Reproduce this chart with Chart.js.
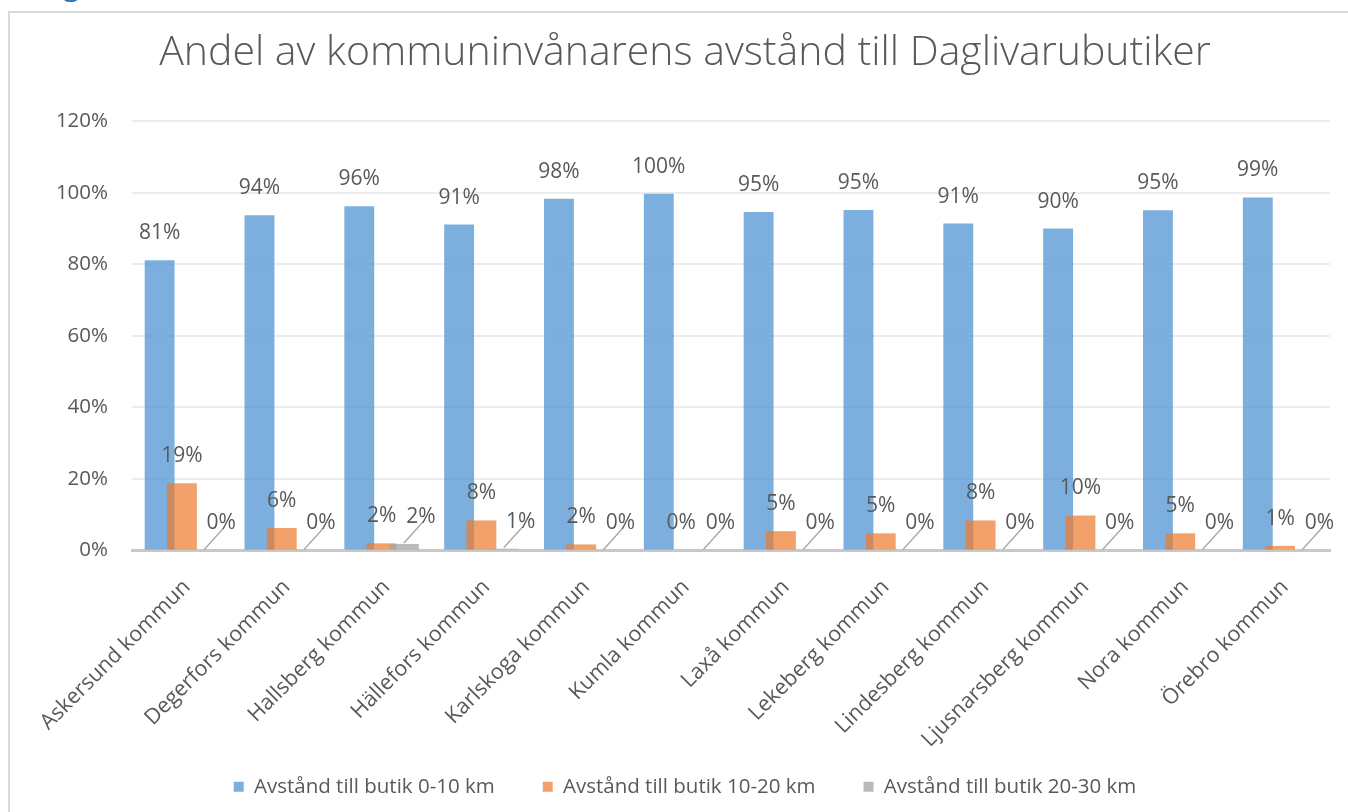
<!DOCTYPE html>
<html>
<head>
<meta charset="utf-8">
<script src="https://cdn.jsdelivr.net/npm/chart.js@4.4.1/dist/chart.umd.min.js"></script>
<style>
  html, body { margin: 0; padding: 0; background: #fff; overflow: hidden; }
  #frame { position: absolute; left: 8px; top: 11px; width: 1400px; height: 900px; border: 2px solid #d9d9d9; box-sizing: border-box; }
  #head { position: absolute; left: 63px; top: -31px; font: 30px/30px "Open Sans", sans-serif; color: #2e75b6; }
  #wrap { position: absolute; left: 0; top: 0; width: 1348px; height: 812px; }
</style>
</head>
<body>
<div id="head">g</div>
<div id="frame"></div>
<div id="wrap"><canvas id="myChart"></canvas></div>
<script>
const kommuner = ['Askersund kommun', 'Degerfors kommun', 'Hallsberg kommun', 'Hällefors kommun',
  'Karlskoga kommun', 'Kumla kommun', 'Laxå kommun', 'Lekeberg kommun', 'Lindesberg kommun',
  'Ljusnarsberg kommun', 'Nora kommun', 'Örebro kommun'];
const andel0_10 = [81.1, 93.7, 96.2, 91.1, 98.3, 99.7, 94.6, 95.2, 91.4, 90.0, 95.1, 98.7];
const andel10_20 = [18.8, 6.3, 2.0, 8.4, 1.7, 0, 5.4, 4.8, 8.4, 9.8, 4.8, 1.3];
const andel20_30 = [0, 0, 1.8, 0.5, 0, 0, 0, 0, 0, 0, 0, 0];
const serieNamn = ['Avstånd till butik 0-10 km', 'Avstånd till butik 10-20 km', 'Avstånd till butik 20-30 km'];
const yTicks = [0, 20, 40, 60, 80, 100, 120];

const textColor = '#595959';
const fontFam = '"Open Sans", sans-serif';

// ritar serierna i ordning (orange över blå, grå över orange) + etiketter
const labelPlugin = {
  id: 'barLabels',
  beforeDatasetsDraw(chart) {
    const ctx = chart.ctx;
    for (let di = 0; di < chart.data.datasets.length; di++) {
      chart.getDatasetMeta(di).controller.draw();
    }
    ctx.save();
    ctx.font = '21px ' + fontFam;
    ctx.fillStyle = textColor;
    ctx.textAlign = 'center';
    ctx.textBaseline = 'middle';
    chart.data.datasets.forEach((ds, di) => {
      const meta = chart.getDatasetMeta(di);
      meta.data.forEach((bar, i) => {
        const txt = Math.round(ds.data[i]) + '%';
        if (di === 2) {
          ctx.strokeStyle = '#a6a6a6';
          ctx.lineWidth = 1.3;
          ctx.beginPath();
          ctx.moveTo(bar.x, bar.y - 1);
          ctx.lineTo(bar.x + 19, bar.y - 22);
          ctx.stroke();
          ctx.fillText(txt, bar.x + 17, bar.y - 27);
        } else {
          ctx.fillText(txt, bar.x, bar.y - 27);
        }
      });
    });
    ctx.restore();
    return false;
  }
};

const ctx = document.getElementById('myChart').getContext('2d');
const chart = new Chart(ctx, {
  type: 'bar',
  data: {
    labels: kommuner,
    datasets: [{
      label: serieNamn[0],
      data: andel0_10,
      backgroundColor: 'rgba(91, 155, 213, 0.8)'
    }, {
      label: serieNamn[1],
      data: andel10_20,
      backgroundColor: 'rgba(237, 125, 49, 0.72)'
    }, {
      label: serieNamn[2],
      data: andel20_30,
      backgroundColor: 'rgba(165, 165, 165, 0.78)'
    }]
  },
  options: {
    responsive: true,
    maintainAspectRatio: false,
    animation: false,
    datasets: {
      bar: { categoryPercentage: 0.67, barPercentage: 1.34 }
    },
    layout: { padding: { left: 40, right: 18, top: 29, bottom: 5 } },
    plugins: {
      title: {
        display: true,
        text: 'Andel av kommuninvånarens avstånd till Daglivarubutiker',
        color: textColor,
        font: { family: fontFam, size: 41, weight: '300', lineHeight: 1.2 },
        padding: { top: 0, bottom: 43 }
      },
      legend: {
        position: 'bottom',
        labels: {
          color: textColor,
          font: { family: fontFam, size: 20.5 },
          boxWidth: 10,
          boxHeight: 10,
          padding: 48
        }
      },
      tooltip: { enabled: false }
    },
    scales: {
      x: {
        grid: { display: false },
        border: { display: true, color: '#c8c8c8', width: 3 },
        ticks: {
          color: textColor,
          font: { family: fontFam, size: 21.5 },
          minRotation: 45,
          maxRotation: 45,
          padding: 16,
          labelOffset: 5,
          autoSkip: false
        },
        afterFit(scale) {
          scale.height = 178;
          scale._computeLabelArea = () => undefined; // låt etiketterna gå ner i legenden
        }
      },
      y: {
        min: 0,
        max: 120,
        afterBuildTicks(scale) { scale.ticks = yTicks.map(v => ({ value: v })); },
        grid: { color: '#ececec', lineWidth: 2, drawTicks: false },
        border: { display: false },
        ticks: {
          color: textColor,
          font: { family: fontFam, size: 20.5 },
          padding: 24,
          callback: v => v + '%'
        },
        afterFit(scale) { scale.width = 92; }
      }
    }
  },
  plugins: [labelPlugin]
});
</script>
</body>
</html>
